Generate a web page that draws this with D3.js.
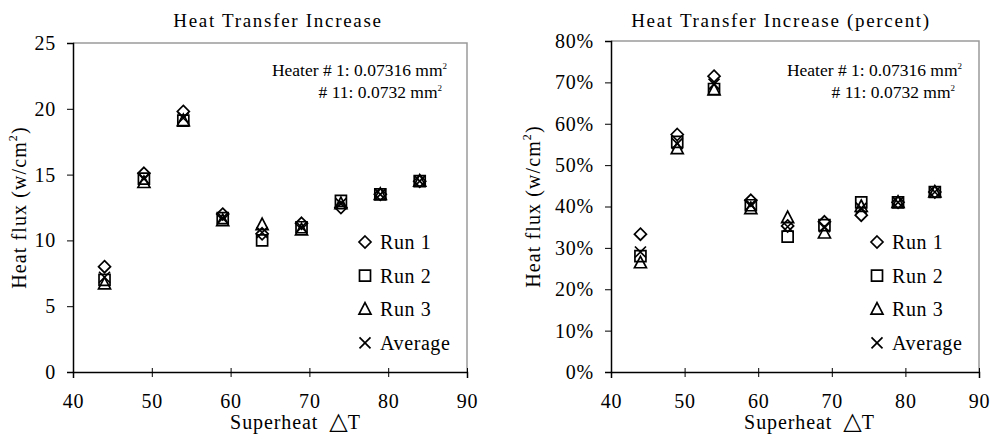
<!DOCTYPE html>
<html>
<head>
<meta charset="utf-8">
<script src="https://cdn.jsdelivr.net/npm/d3@7"></script>
<style>
  html, body { margin: 0; padding: 0; background: #fff; }
  svg text { font-family: "Liberation Serif", "DejaVu Serif", serif; fill: #000; }
</style>
</head>
<body>
<svg id="chart" width="994" height="435"></svg>
<script>
// Superheat values (x) shared by both panels
const superheat = [44, 49, 54, 59, 64, 69, 74, 79, 84];

// Heat flux (w/cm²)
const fluxRun1 = [8.0, 15.1, 19.8, 12.0, 10.5, 11.3, 12.5, 13.5, 14.5];
const fluxRun2 = [7.0, 14.7, 19.1, 11.7, 10.0, 11.0, 13.0, 13.5, 14.5];
const fluxRun3 = [6.7, 14.4, 19.1, 11.5, 11.2, 10.8, 12.8, 13.5, 14.5];
const fluxAvg  = [7.2, 14.7, 19.3, 11.7, 10.6, 11.0, 12.8, 13.5, 14.5];

// Heat transfer increase (percent)
const pctRun1 = [33.3, 57.4, 71.5, 41.5, 35.3, 36.3, 37.9, 41.0, 43.5];
const pctRun2 = [28.0, 55.6, 68.4, 40.3, 32.7, 35.5, 41.0, 41.0, 43.5];
const pctRun3 = [26.4, 54.0, 68.2, 39.5, 37.3, 33.6, 40.0, 41.0, 43.5];
const pctAvg  = [29.0, 55.2, 69.6, 40.4, 35.1, 35.1, 39.6, 41.0, 43.5];

const xTicks = [40, 50, 60, 70, 80, 90];
const fluxTicks = [0, 5, 10, 15, 20, 25];
const pctTicks = [0, 10, 20, 30, 40, 50, 60, 70, 80];

const seriesNames = ["Run 1", "Run 2", "Run 3", "Average"];
const markerKinds = ["diamond", "square", "triangle", "cross"];

const svg = d3.select("#chart");

function marker(g, kind, cx, cy) {
  const p = g.append("path").attr("fill", "none").attr("stroke", "#000").attr("stroke-width", 1.7);
  if (kind === "diamond") {
    p.attr("d", `M${cx},${cy - 6}L${cx + 6},${cy}L${cx},${cy + 6}L${cx - 6},${cy}Z`);
  } else if (kind === "square") {
    p.attr("d", `M${cx - 5.5},${cy - 5.5}H${cx + 5.5}V${cy + 5.5}H${cx - 5.5}Z`);
  } else if (kind === "triangle") {
    p.attr("d", `M${cx},${cy - 6.5}L${cx + 6},${cy + 5}L${cx - 6},${cy + 5}Z`);
  } else {
    p.attr("d", `M${cx - 5.5},${cy - 5.5}L${cx + 5.5},${cy + 5.5}M${cx + 5.5},${cy - 5.5}L${cx - 5.5},${cy + 5.5}`);
  }
}

function panel(opts) {
  const { left, right, top, bottom, yMax, yTicks, yFmt, series, title, titleX,
          labelX, xLabelX, legendX, noteX, note2X } = opts;
  const x = d3.scaleLinear().domain([40, 90]).range([left, right]);
  const y = d3.scaleLinear().domain([0, yMax]).range([bottom, top]);
  const g = svg.append("g");

  // frame: grey top and right edges
  g.append("path")
    .attr("d", `M${left},${top}H${right}V${bottom}`)
    .attr("fill", "none").attr("stroke", "#9a9a9a").attr("stroke-width", 1.5);

  const yAxis = g.append("g")
    .attr("transform", `translate(${left},0)`)
    .call(d3.axisLeft(y).tickValues(yTicks).tickFormat(yFmt).tickSize(6).tickPadding(11));
  const xAxis = g.append("g")
    .attr("transform", `translate(0,${bottom})`)
    .call(d3.axisBottom(x).tickValues(xTicks).tickSize(6).tickPadding(16));
  [yAxis, xAxis].forEach(a => {
    a.select(".domain").attr("stroke", "#000").attr("stroke-width", 1.5);
    a.selectAll(".tick line").attr("stroke", "#000").attr("stroke-width", 1);
    a.selectAll("text").attr("font-size", 20).attr("letter-spacing", 0.8);
  });
  xAxis.selectAll(".tick line").attr("y1", -4).attr("y2", 5);

  g.append("text").attr("x", titleX).attr("y", 27)
    .attr("text-anchor", "middle").attr("font-size", 19).attr("letter-spacing", 1.7).text(title);

  const xl = g.append("text").attr("x", xLabelX).attr("y", 429)
    .attr("text-anchor", "middle").attr("font-size", 20);
  xl.append("tspan").attr("letter-spacing", 0.9).text("Superheat");
  xl.append("tspan").attr("dx", 11).style("font-family", "DejaVu Sans, sans-serif")
    .attr("font-size", 24).text("△");
  xl.append("tspan").text("T");

  const yl = g.append("text")
    .attr("transform", `translate(${labelX},${(top + bottom) / 2}) rotate(-90)`)
    .attr("text-anchor", "middle").attr("font-size", 20).attr("letter-spacing", 1.1);
  yl.append("tspan").text("Heat flux (w/cm");
  yl.append("tspan").attr("font-size", 12).attr("dy", -9).text("2");
  yl.append("tspan").attr("dy", 9).text(")");

  // heater area note
  const n1 = g.append("text").attr("x", noteX).attr("y", 76)
    .attr("text-anchor", "end").attr("font-size", 17.5);
  n1.append("tspan").text("Heater # 1: 0.07316 mm");
  n1.append("tspan").attr("font-size", 9).attr("dy", -7).text("2");
  const n2 = g.append("text").attr("x", note2X).attr("y", 98)
    .attr("text-anchor", "end").attr("font-size", 17.5);
  n2.append("tspan").text("# 11: 0.0732 mm");
  n2.append("tspan").attr("font-size", 9).attr("dy", -7).text("2");

  // data markers
  series.forEach((vals, si) => {
    vals.forEach((v, i) => marker(g, markerKinds[si], x(superheat[i]), y(v)));
  });

  // legend
  seriesNames.forEach((name, si) => {
    const ly = 242 + si * 33.6;
    marker(g, markerKinds[si], legendX, ly);
    g.append("text").attr("x", legendX + 15).attr("y", ly + 7)
      .attr("font-size", 20).attr("letter-spacing", 0.6).text(name);
  });
}

panel({
  left: 73, right: 467, top: 43, bottom: 372,
  yMax: 25, yTicks: fluxTicks, yFmt: d => d,
  series: [fluxRun1, fluxRun2, fluxRun3, fluxAvg],
  title: "Heat Transfer Increase", titleX: 278, labelX: 26, xLabelX: 295,
  legendX: 365, noteX: 447, note2X: 442
});

panel({
  left: 611, right: 979, top: 41, bottom: 372,
  yMax: 80, yTicks: pctTicks, yFmt: d => d + "%",
  series: [pctRun1, pctRun2, pctRun3, pctAvg],
  title: "Heat Transfer Increase (percent)", titleX: 781, labelX: 540, xLabelX: 809,
  legendX: 877, noteX: 962, note2X: 955
});
</script>
</body>
</html>
